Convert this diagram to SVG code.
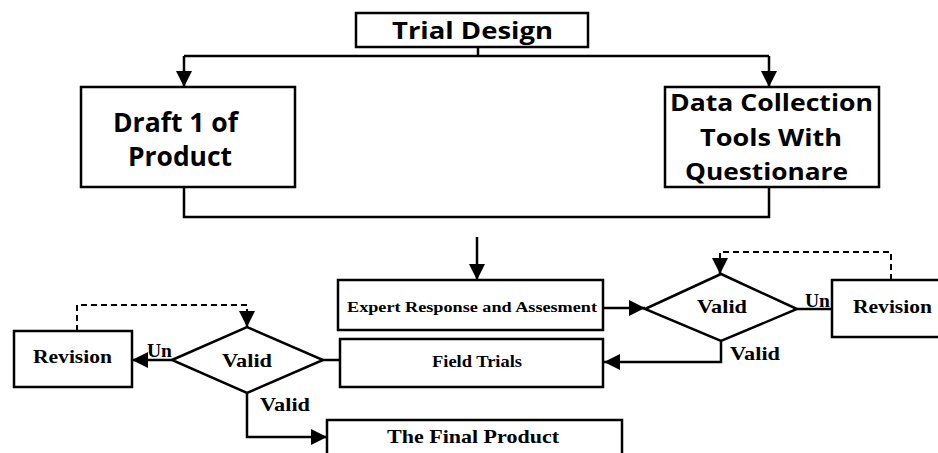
<svg xmlns="http://www.w3.org/2000/svg" width="938" height="453" viewBox="0 0 938 453">
  <style>
    .box { fill: #fff; stroke: #000; stroke-width: 2.5; }
    .line { fill: none; stroke: #000; stroke-width: 2.5; }
    .dash { fill: none; stroke: #000; stroke-width: 2; stroke-dasharray: 6 4; }
    .sans { font-family: "Open Sans", "Liberation Sans", sans-serif; font-weight: bold; fill: #000; }
    .serif { font-family: "Liberation Serif", "Times New Roman", serif; font-weight: bold; fill: #000; }
  </style>
  <defs>
    <marker id="arrow" viewBox="0 0 16 16" refX="16" refY="8" markerWidth="16" markerHeight="16" markerUnits="userSpaceOnUse" orient="auto">
      <path d="M0,0 L16,8 L0,16 Z" fill="#000"/>
    </marker>
  </defs>
  <rect width="938" height="453" fill="#fff"/>

  <g id="connectors">
    <path class="line" d="M478,47 V56"/>
    <path class="line" d="M184,56 H769"/>
    <path class="line" d="M184,56 V87" marker-end="url(#arrow)"/>
    <path class="line" d="M769,56 V87" marker-end="url(#arrow)"/>
    <path class="line" d="M184,187 V217 H769 V187"/>
    <path class="line" d="M477,237 V280" marker-end="url(#arrow)"/>
    <path class="line" d="M603,308 H645" marker-end="url(#arrow)"/>
    <path class="line" d="M797,309 H832"/>
    <path class="dash" d="M891,280 V252 H720 V258"/>
    <path class="line" d="M720,258 V274" marker-end="url(#arrow)"/>
    <path class="line" d="M721,341 V362 H604" marker-end="url(#arrow)"/>
    <path class="line" d="M323,360 H340"/>
    <path class="line" d="M172,360 H132" marker-end="url(#arrow)"/>
    <path class="dash" d="M77,331 V305 H247 V311"/>
    <path class="line" d="M247,311 V327" marker-end="url(#arrow)"/>
    <path class="line" d="M247,393 V437 H327" marker-end="url(#arrow)"/>
    <text class="serif" x="805" y="307" font-size="19" textLength="25" lengthAdjust="spacingAndGlyphs">Un</text>
    <text class="serif" x="730" y="360" font-size="19" textLength="50" lengthAdjust="spacingAndGlyphs">Valid</text>
    <text class="serif" x="147" y="357" font-size="19" textLength="25" lengthAdjust="spacingAndGlyphs">Un</text>
    <text class="serif" x="260" y="411" font-size="19" textLength="50" lengthAdjust="spacingAndGlyphs">Valid</text>
  </g>

  <g id="trial-design">
    <rect class="box" x="356" y="13" width="232" height="34"/>
    <text class="sans" x="392" y="39" font-size="24" textLength="161" lengthAdjust="spacingAndGlyphs">Trial Design</text>
  </g>

  <g id="draft">
    <rect class="box" x="81" y="87" width="214" height="100"/>
    <text class="sans" x="113" y="132" font-size="26" textLength="125" lengthAdjust="spacingAndGlyphs">Draft 1 of</text>
    <text class="sans" x="128" y="166" font-size="26" textLength="104" lengthAdjust="spacingAndGlyphs">Product</text>
  </g>

  <g id="data-collection">
    <rect class="box" x="665" y="87" width="214" height="100"/>
    <text class="sans" x="670" y="111" font-size="24" textLength="203" lengthAdjust="spacingAndGlyphs">Data Collection</text>
    <text class="sans" x="700" y="146" font-size="24" textLength="142" lengthAdjust="spacingAndGlyphs">Tools With</text>
    <text class="sans" x="685" y="180" font-size="24" textLength="163" lengthAdjust="spacingAndGlyphs">Questionare</text>
  </g>

  <g id="expert">
    <rect class="box" x="338" y="280" width="265" height="50"/>
    <text class="serif" x="347" y="312" font-size="14" textLength="250" lengthAdjust="spacingAndGlyphs">Expert Response and Assesment</text>
  </g>

  <g id="valid-1">
    <polygon class="box" points="645,309 721,274 797,309 721,341"/>
    <text class="serif" x="697" y="313" font-size="19" textLength="50" lengthAdjust="spacingAndGlyphs">Valid</text>
  </g>

  <g id="revision-1">
    <rect class="box" x="832" y="280" width="110" height="57"/>
    <text class="serif" x="853" y="313" font-size="19" textLength="79" lengthAdjust="spacingAndGlyphs">Revision</text>
  </g>

  <g id="field-trials">
    <rect class="box" x="340" y="339" width="263" height="48"/>
    <text class="serif" x="432" y="367" font-size="16" textLength="90" lengthAdjust="spacingAndGlyphs">Field Trials</text>
  </g>

  <g id="valid-2">
    <polygon class="box" points="172,360 247,327 323,360 247,393"/>
    <text class="serif" x="222" y="367" font-size="19" textLength="50" lengthAdjust="spacingAndGlyphs">Valid</text>
  </g>

  <g id="revision-2">
    <rect class="box" x="14" y="331" width="118" height="56"/>
    <text class="serif" x="33" y="363" font-size="19" textLength="79" lengthAdjust="spacingAndGlyphs">Revision</text>
  </g>

  <g id="final-product">
    <rect class="box" x="327" y="420" width="295" height="40"/>
    <text class="serif" x="387" y="443" font-size="19" textLength="172" lengthAdjust="spacingAndGlyphs">The Final Product</text>
  </g>
</svg>
